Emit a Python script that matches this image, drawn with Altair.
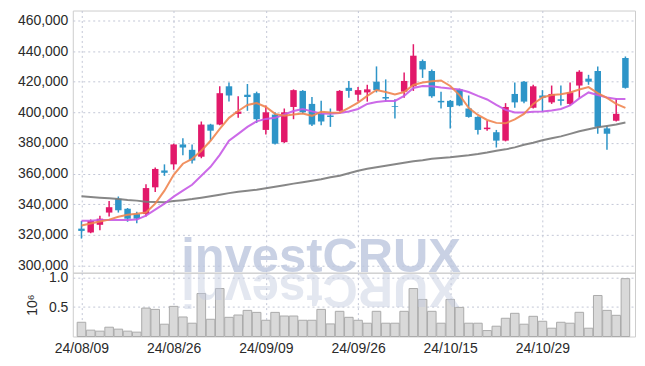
import altair as alt
import pandas as pd

# ---------------- data ----------------
dates = ["24/08/09", "24/08/12", "24/08/13", "24/08/14", "24/08/16", "24/08/19", "24/08/20", "24/08/21", "24/08/22", "24/08/23",
         "24/08/26", "24/08/27", "24/08/28", "24/08/29", "24/08/30", "24/09/02", "24/09/03", "24/09/04", "24/09/05", "24/09/06",
         "24/09/09", "24/09/10", "24/09/11", "24/09/12", "24/09/13", "24/09/19", "24/09/20", "24/09/23", "24/09/24", "24/09/25",
         "24/09/26", "24/09/27", "24/09/30", "24/10/02", "24/10/04", "24/10/07", "24/10/08", "24/10/10", "24/10/11", "24/10/14",
         "24/10/15", "24/10/16", "24/10/17", "24/10/18", "24/10/21", "24/10/22", "24/10/23", "24/10/24", "24/10/25", "24/10/28",
         "24/10/29", "24/10/30", "24/10/31", "24/11/01", "24/11/04", "24/11/05", "24/11/06", "24/11/07", "24/11/08", "24/11/11"]

opens = [324000, 321500, 326500, 334500, 343500, 337000, 333500, 333500, 351000, 362000,
         366000, 379000, 375500, 371000, 392000, 392000, 417000, 399000, 411500, 412500,
         388500, 398500, 380500, 403500, 414000, 405500, 399000, 398000, 401000, 416000,
         411500, 413000, 420000, 410000, 404000, 413500, 417000, 433500, 427000, 407500,
         407500, 415000, 402500, 397000, 389000, 387000, 381500, 412000, 420000, 403000,
         411000, 406500, 408500, 405500, 417500, 422000, 427000, 389500, 394500, 435500]
highs = [329000, 330000, 332500, 342000, 345000, 337500, 335000, 353000, 364000, 366000,
         379500, 383000, 379000, 394000, 392500, 417000, 419500, 410500, 418500, 413500,
         404500, 400000, 402500, 415000, 414500, 410000, 407500, 402500, 414500, 420500,
         416500, 418000, 430000, 421500, 408500, 426000, 444500, 434500, 428000, 413500,
         408000, 415500, 411000, 397500, 394500, 388500, 406000, 419500, 420500, 418000,
         414500, 417500, 417500, 419500, 427500, 424500, 430000, 391000, 409000, 436500]
lows = [317500, 321000, 323000, 332000, 334500, 328500, 327500, 332000, 348000, 358500,
        362500, 372000, 366500, 370000, 381500, 391500, 407000, 396500, 401000, 393000,
        385500, 379000, 380000, 395500, 399000, 391000, 391500, 390500, 400500, 409500,
        407000, 407000, 413000, 407000, 396000, 409500, 414000, 422500, 409500, 402500,
        389500, 404000, 396500, 385500, 388000, 377000, 381000, 403000, 406000, 402500,
        400500, 405500, 404500, 404500, 409500, 418000, 386000, 375500, 394000, 415500]
closes = [322500, 329000, 330500, 338000, 336000, 330500, 330500, 350500, 363000, 360500,
          379000, 377000, 368500, 392000, 388000, 412500, 411000, 400500, 410000, 395500,
          400000, 379500, 400000, 414500, 400000, 392000, 394000, 397000, 414000, 414000,
          414500, 415000, 414500, 409000, 403500, 420500, 437000, 428000, 410500, 406500,
          403500, 404500, 397000, 388500, 390000, 381500, 403500, 406500, 407000, 417000,
          409500, 412000, 407500, 413000, 426500, 420000, 390500, 386000, 399000, 416000]

ma_short = [326000, 327300, 328600, 329900, 331800, 333100, 333800, 334500, 340300, 348800,
            359200, 366400, 369600, 374900, 381400, 389200, 396400, 400900, 404800, 406100,
            403500, 399000, 397700, 398600, 399200, 397700, 400300, 399900, 399800, 402900,
            406300, 410700, 414600, 413300, 411700, 413300, 417900, 419500, 420300, 420800,
            417200, 411300, 402900, 398300, 395000, 393100, 392800, 395400, 399000, 405500,
            409700, 411300, 411800, 413000, 414900, 416500, 412600, 409400, 405500, 402900]
ma_mid = [329200, 329200, 329600, 329700, 329600, 329600, 329900, 332500, 336400, 340300,
          344900, 348800, 352700, 358600, 364400, 372200, 381400, 385900, 390500, 394100,
          395700, 396400, 398600, 400900, 402200, 400600, 399300, 399000, 399600, 400600,
          402200, 405500, 406800, 407400, 407400, 410700, 415900, 417200, 417000, 416200,
          415600, 414900, 413300, 410700, 408400, 404800, 401600, 399900, 399900, 400300,
          400600, 401200, 402200, 404500, 409100, 413000, 411300, 409700, 408700, 408700]
ma_long = [345100, 344700, 344200, 343800, 343300, 342700, 342300, 341600, 341400, 341300,
           342000, 342600, 343300, 344200, 345200, 346200, 347200, 348100, 348800, 349400,
           350400, 351400, 352400, 353400, 354300, 355300, 356300, 357600, 358600, 360200,
           361800, 363100, 364100, 365100, 366100, 367000, 368000, 368700, 369600, 370100,
           370600, 371300, 371900, 372700, 373700, 374900, 375800, 377100, 378800, 380100,
           381700, 383000, 384300, 385900, 387600, 388900, 390200, 391100, 392100, 393300]

volumes = [242000, 108000, 91000, 158000, 125000, 91000, 74000, 483000, 461000, 209000,
           512000, 332000, 226000, 731000, 293000, 815000, 326000, 365000, 444000, 410000,
           276000, 410000, 348000, 348000, 276000, 276000, 461000, 214000, 428000, 326000,
           276000, 226000, 428000, 226000, 226000, 428000, 815000, 630000, 428000, 226000,
           630000, 495000, 226000, 226000, 101000, 175000, 310000, 394000, 209000, 343000,
           259000, 141000, 242000, 226000, 411000, 141000, 697000, 444000, 360000, 983000]

price_ticks = [300000, 320000, 340000, 360000, 380000, 400000, 420000, 440000, 460000]
volume_ticks = [0.5, 1.0]
label_idx = [0, 10, 20, 30, 40, 50]
watermark = "investCRUX"

# ---------------- styling ----------------
FONT = "Liberation Sans"
UP = "#e2196a"
DOWN = "#2e95c8"
C_SHORT = "#ef8550"
C_MID = "#c75ae6"
C_LONG = "#7a7a7a"

n = len(dates)
df = pd.DataFrame({
    "i": list(range(n)), "date": dates, "open": opens, "high": highs,
    "low": lows, "close": closes, "ma_short": ma_short, "ma_mid": ma_mid,
    "ma_long": ma_long, "volume": volumes,
})
df["dir"] = ["up" if c >= o else "down" for o, c in zip(opens, closes)]
df["vol_m"] = df["volume"] / 1e6

label_expr = "[" + ",".join("'%s'" % dates[k] for k in label_idx) + "][round(datum.value/10)]"

xscale = alt.Scale(domain=[-0.4, 59.5], nice=False, zero=False)
EXT = 58.7

color = alt.Color("dir:N", scale=alt.Scale(domain=["up", "down"], range=[UP, DOWN]), legend=None)

base = alt.Chart(df)
x_axis_price = alt.Axis(values=label_idx, labels=False, ticks=False, domain=False, grid=True,
                        title=None, minExtent=0, maxExtent=0)
y_scale_price = alt.Scale(domain=[295200, 466500], nice=False, zero=False)
y_axis_price = alt.Axis(values=price_ticks, format=",d", title=None, ticks=False, domain=False,
                        labelPadding=5, labelOverlap=False, minExtent=EXT, maxExtent=EXT)


def px(field="i"):
    return alt.X(f"{field}:Q", scale=xscale, axis=x_axis_price)


def py(field):
    return alt.Y(f"{field}:Q", scale=y_scale_price, axis=y_axis_price)


wick = base.mark_rule(strokeWidth=1.5).encode(x=px(), y=py("low"), y2="high:Q", color=color)
body = base.mark_bar(size=6.5).encode(x=px(), y=py("open"), y2="close:Q", color=color)
l_long = base.mark_line(color=C_LONG, strokeWidth=2, opacity=0.9).encode(x=px(), y=py("ma_long"))
l_mid = base.mark_line(color=C_MID, strokeWidth=2, opacity=0.9).encode(x=px(), y=py("ma_mid"))
l_short = base.mark_line(color=C_SHORT, strokeWidth=2, opacity=0.9).encode(x=px(), y=py("ma_short"))

wm = alt.Chart(pd.DataFrame({"t": [watermark]})).mark_text(
    font="Liberation Sans", fontWeight="bold", fontSize=49, color="#bcc6de", opacity=0.8,
    align="center", baseline="alphabetic"
).encode(text="t:N", x=alt.value(249), y=alt.value(262))

price = alt.layer(wm, wick, body, l_long, l_mid, l_short).properties(width=564, height=263)

x_vol = alt.X("i:Q", scale=xscale,
              axis=alt.Axis(values=label_idx, labelExpr=label_expr, ticks=False, domain=False, grid=True,
                            title=None, labelPadding=5))
y_vol = alt.Y("vol_m:Q", scale=alt.Scale(domain=[0, 1.084], nice=False),
              axis=alt.Axis(values=volume_ticks, format=".1f", title="10⁶", titleFontWeight="normal",
                            ticks=False, domain=False, labelPadding=5, titlePadding=9, labelOverlap=False,
                            minExtent=24, maxExtent=24))
bars = base.mark_bar(size=8.6, fill="#d9d9d9", stroke="#ababab", strokeWidth=1).encode(x=x_vol, y=y_vol)

refl = alt.Chart(pd.DataFrame({"t": [watermark[::-1]]})).mark_text(
    font="Liberation Sans", fontWeight="bold", fontSize=49, color="#c3cbe0", opacity=0.45,
    align="center", baseline="alphabetic", angle=180
).encode(text="t:N", x=alt.value(249), y=alt.value(1))

volume = alt.layer(bars, refl).properties(width=564, height=64)

chart = alt.vconcat(price, volume, spacing=0, bounds="flush").properties(
    padding={"left": 5, "top": 1, "right": 1, "bottom": 0}
).configure_view(stroke="#cdcdcd").configure_axis(
    labelFont=FONT, labelFontSize=14, labelColor="#2a2a2a",
    titleFont=FONT, titleFontSize=14, titleColor="#2a2a2a",
    gridColor="#c3c7d6", gridDash=[2, 3], gridWidth=1,
)

chart.save("out.html", embed_options={"renderer": "svg", "actions": False})
